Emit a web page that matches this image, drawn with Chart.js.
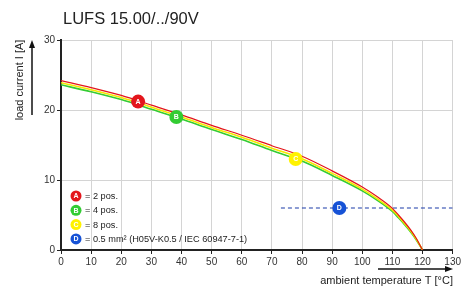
<!DOCTYPE html>
<html>
<head>
<meta charset="utf-8">
<script src="https://cdn.jsdelivr.net/npm/chart.js@4.4.1/dist/chart.umd.min.js"></script>
<style>
html,body{margin:0;padding:0;background:#fff;}
#wrap{width:463px;height:287px;position:relative;}
</style>
</head>
<body>
<div id="wrap"><canvas id="c" width="463" height="287"></canvas></div>
<script>
const titleText = "LUFS 15.00/../90V";
const xTitle = "ambient temperature T [°C]";
const yTitle = "load current I [A]";
const temps      = [0, 10, 20, 30, 40, 50, 60, 70, 80, 90, 100, 105, 110, 112, 114, 116, 118, 120];
const red2pos    = [24.2, 23.2, 22.1, 20.7, 19.3, 17.8, 16.4, 14.9, 13.4, 11.3, 9.0, 7.6, 5.95, 5.0, 4.0, 2.9, 1.6, 0];
const yellow8pos = [23.9, 22.9, 21.8, 20.4, 19.0, 17.5, 16.1, 14.55, 13.05, 10.95, 8.7, 7.3, 5.7, 4.8, 3.8, 2.75, 1.5, 0];
const green4pos  = [23.6, 22.6, 21.5, 20.1, 18.7, 17.2, 15.8, 14.2, 12.7, 10.65, 8.45, 7.1, 5.5, 4.6, 3.65, 2.6, 1.4, 0];
const dashX = [73, 130];
const dashY = [6, 6];
const markerLetters = ["A", "B", "C", "D"];
const markerX = [25.6, 38.3, 77.9, 92.4];
const markerY = [21.2, 19.0, 13.0, 6.0];
const markerColors = ["#e3161c", "#33cc33", "#fff200", "#1652d6"];
const legendTexts = ["= 2 pos.", "= 4 pos.", "= 8 pos.", "= 0.5 mm² (H05V-K0.5 / IEC 60947-7-1)"];
const xTicks = [0,10,20,30,40,50,60,70,80,90,100,110,120,130];
const yTicks = [0,10,20,30];

const pts = (xs, ys) => xs.map((x, i) => ({x: x, y: ys[i]}));

const FONT = "'Liberation Sans', Arial, sans-serif";

const overlay = {
  id: 'overlay',
  afterDraw(chart) {
    const ctx = chart.ctx;
    const xs = chart.scales.x, ys = chart.scales.y;
    ctx.save();
    // title
    ctx.fillStyle = '#222';
    ctx.font = '16.5px ' + FONT;
    ctx.textAlign = 'left';
    ctx.textBaseline = 'middle';
    ctx.fillText(titleText, 63, 19);
    // marker letters
    ctx.font = 'bold 7px ' + FONT;
    ctx.textAlign = 'center';
    ctx.textBaseline = 'middle';
    ctx.fillStyle = '#fff';
    for (let i = 0; i < markerLetters.length; i++) {
      ctx.fillText(markerLetters[i], xs.getPixelForValue(markerX[i]), ys.getPixelForValue(markerY[i]) + 0.5);
    }
    // legend
    const lx = 76, ly0 = 196, dy = 14.3;
    for (let i = 0; i < legendTexts.length; i++) {
      const y = ly0 + i * dy;
      ctx.beginPath();
      ctx.arc(lx, y, 5.5, 0, Math.PI * 2);
      ctx.fillStyle = markerColors[i];
      ctx.fill();
      ctx.fillStyle = '#fff';
      ctx.font = 'bold 7px ' + FONT;
      ctx.textAlign = 'center';
      ctx.fillText(markerLetters[i], lx, y + 0.5);
      ctx.fillStyle = '#222';
      ctx.font = '9.2px ' + FONT;
      ctx.textAlign = 'left';
      ctx.fillText(legendTexts[i], 85, y + 0.5);
    }
    // x axis title + arrow
    ctx.fillStyle = '#222';
    ctx.font = '11px ' + FONT;
    ctx.textAlign = 'right';
    ctx.textBaseline = 'middle';
    ctx.fillText(xTitle, 453, 281);
    ctx.strokeStyle = '#111';
    ctx.lineWidth = 1.5;
    ctx.beginPath();
    ctx.moveTo(378, 269); ctx.lineTo(447, 269); ctx.stroke();
    ctx.beginPath();
    ctx.moveTo(453, 269); ctx.lineTo(445, 266); ctx.lineTo(445, 272); ctx.closePath();
    ctx.fillStyle = '#111'; ctx.fill();
    // y axis title + arrow
    ctx.save();
    ctx.translate(20, 80);
    ctx.rotate(-Math.PI / 2);
    ctx.fillStyle = '#222';
    ctx.font = '11px ' + FONT;
    ctx.textAlign = 'center';
    ctx.textBaseline = 'middle';
    ctx.fillText(yTitle, 0, 0);
    ctx.restore();
    ctx.beginPath();
    ctx.moveTo(32, 115); ctx.lineTo(32, 46); ctx.stroke();
    ctx.beginPath();
    ctx.moveTo(32, 40); ctx.lineTo(29, 48); ctx.lineTo(35, 48); ctx.closePath();
    ctx.fill();
    ctx.restore();
  }
};

new Chart(document.getElementById('c'), {
  type: 'scatter',
  data: {
    datasets: [
      {label: 'D line', data: pts(dashX, dashY), showLine: true, borderColor: '#1a3aa8', borderWidth: 1.2, borderDash: [4, 3], pointRadius: 0, order: 5},
      {label: 'green', data: pts(temps, green4pos), showLine: true, borderColor: '#33cc33', borderWidth: 1.6, pointRadius: 0, cubicInterpolationMode: 'monotone', order: 4},
      {label: 'yellow', data: pts(temps, yellow8pos), showLine: true, borderColor: '#f5e800', borderWidth: 1.6, pointRadius: 0, cubicInterpolationMode: 'monotone', order: 3},
      {label: 'red', data: pts(temps, red2pos), showLine: true, borderColor: '#e3161c', borderWidth: 1.2, pointRadius: 0, cubicInterpolationMode: 'monotone', order: 2},
      {label: 'markers', data: pts(markerX, markerY), showLine: false, pointRadius: 7, pointHoverRadius: 7, pointBorderWidth: 0,
        pointBackgroundColor: markerColors, pointBorderColor: markerColors, order: 1}
    ]
  },
  options: {
    responsive: false,
    animation: false,
    events: [],
    layout: {padding: {top: 40, right: 10, left: 0, bottom: 0}},
    plugins: {legend: {display: false}, title: {display: false}, tooltip: {enabled: false}},
    scales: {
      x: {
        type: 'linear', min: 0, max: 130,
        afterBuildTicks: (s) => { s.ticks = xTicks.map(v => ({value: v})); },
        afterFit: (s) => { s.height = 37; },
        grid: {color: '#d4d4d4', lineWidth: 1, drawTicks: true, tickLength: 4, tickColor: '#222'},
        border: {display: true, color: '#222', width: 2},
        ticks: {color: '#333', font: {family: FONT, size: 10}, padding: 2, maxRotation: 0, autoSkip: false}
      },
      y: {
        type: 'linear', min: 0, max: 30,
        afterBuildTicks: (s) => { s.ticks = yTicks.map(v => ({value: v})); },
        afterFit: (s) => { s.width = 61; },
        grid: {color: '#d4d4d4', lineWidth: 1, drawTicks: true, tickLength: 4, tickColor: '#222'},
        border: {display: true, color: '#222', width: 2},
        ticks: {color: '#333', font: {family: FONT, size: 10}, padding: 2}
      }
    }
  },
  plugins: [overlay]
});
</script>
</body>
</html>
